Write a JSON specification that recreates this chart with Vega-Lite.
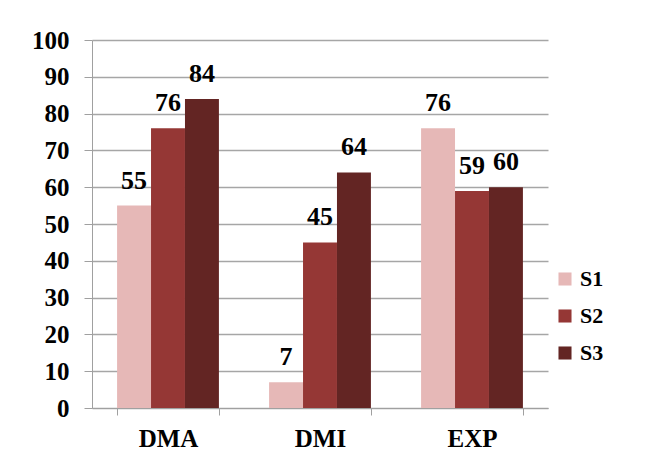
{
  "$schema": "https://vega.github.io/schema/vega-lite/v6.json",
  "width": 456,
  "height": 368,
  "autosize": {"type": "none"},
  "padding": {"left": 92, "top": 40, "right": 100, "bottom": 58},
  "background": "white",
  "data": {"values": [
    {"cat": "DMA", "series": "S1", "value": 55},
    {"cat": "DMA", "series": "S2", "value": 76},
    {"cat": "DMA", "series": "S3", "value": 84},
    {"cat": "DMI", "series": "S1", "value": 7},
    {"cat": "DMI", "series": "S2", "value": 45},
    {"cat": "DMI", "series": "S3", "value": 64},
    {"cat": "EXP", "series": "S1", "value": 76},
    {"cat": "EXP", "series": "S2", "value": 59},
    {"cat": "EXP", "series": "S3", "value": 60}
  ]},
  "encoding": {
    "x": {"field": "cat", "type": "nominal", "sort": null,
      "scale": {"paddingInner": 0.33, "paddingOuter": 0.165},
      "axis": {"title": null, "labelAngle": 0, "tickBand": "extent", "domainColor": "#a0a0a0", "tickColor": "#a0a0a0", "tickSize": 7, "labelFont": "Times New Roman, Liberation Serif, serif", "labelFontWeight": "bold", "labelFontSize": 25, "labelColor": "black", "labelPadding": 11, "grid": false}},
    "xOffset": {"field": "series", "type": "nominal", "scale": {"paddingInner": 0, "paddingOuter": 0}},
    "y": {"field": "value", "type": "quantitative",
      "scale": {"domain": [0, 100], "nice": false},
      "axis": {"title": null, "values": [0,10,20,30,40,50,60,70,80,90,100], "domainColor": "#a0a0a0", "tickColor": "#a0a0a0", "tickSize": 8, "gridColor": "#a6a6a6", "gridWidth": 1.5, "labelFont": "Times New Roman, Liberation Serif, serif", "labelFontWeight": "bold", "labelFontSize": 25, "labelColor": "black", "labelPadding": 15}}
  },
  "layer": [
    {"mark": {"type": "bar"},
     "encoding": {
       "color": {"field": "series", "type": "nominal",
         "scale": {"domain": ["S1", "S2", "S3"], "range": ["#e6b8b7", "#953735", "#632523"]},
         "legend": {"title": null, "orient": "none", "legendX": 462, "legendY": 228, "symbolType": "square", "symbolSize": 170, "symbolStrokeWidth": 0, "labelFont": "Times New Roman, Liberation Serif, serif", "labelFontWeight": "bold", "labelFontSize": 22, "labelColor": "black", "rowPadding": 15, "labelOffset": 4}}
     }},
    {"mark": {"type": "text", "baseline": "alphabetic", "dy": -17, "font": "Times New Roman, Liberation Serif, serif", "fontWeight": "bold", "fontSize": 26, "color": "black"},
     "encoding": {"text": {"field": "value", "type": "quantitative"}}}
  ],
  "config": {"view": {"stroke": null}}
}
